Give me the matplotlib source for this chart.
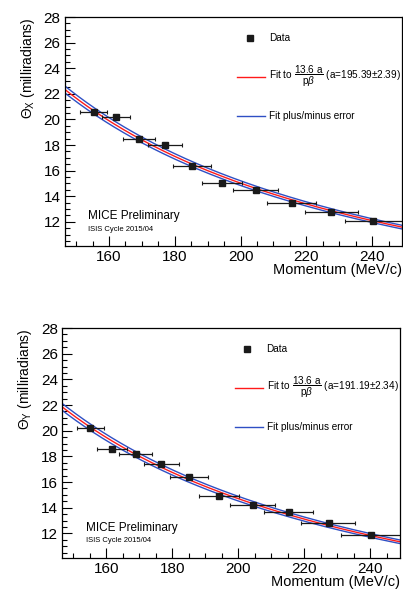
import numpy as np
import matplotlib
matplotlib.use("Agg")
import matplotlib.pyplot as plt
from matplotlib.ticker import MultipleLocator

plt.rcParams['font.family'] = ['Liberation Sans', 'DejaVu Sans']
plt.rcParams['mathtext.fontset'] = 'custom'
plt.rcParams['mathtext.rm'] = 'Liberation Sans'
plt.rcParams['mathtext.it'] = 'Liberation Sans:italic'
plt.rcParams['mathtext.bf'] = 'Liberation Sans:bold'

MUON_MASS = 105.66

# theta_x panel
px_x = [155.6, 162.1, 169.1, 177.0, 185.3, 194.5, 204.6, 215.5, 227.6, 240.4]
thx = [20.6, 20.2, 18.5, 18.0, 16.4, 15.0, 14.5, 13.5, 12.8, 12.1]
px_lo = [151.3, 157.8, 164.3, 171.9, 179.6, 188.4, 197.8, 208.1, 219.5, 231.8]
px_hi = [159.5, 166.5, 173.9, 182.2, 190.9, 200.4, 211.3, 222.9, 235.8, 249.5]
a_x, da_x = 195.39, 2.39

# theta_y panel
py_y = [155.2, 161.8, 168.9, 176.7, 185.0, 194.2, 204.3, 215.2, 227.3, 240.1]
thy = [20.2, 18.6, 18.2, 17.4, 16.4, 14.9, 14.2, 13.7, 12.8, 11.85]
py_lo = [151.0, 157.2, 163.9, 171.4, 179.3, 188.1, 197.5, 207.7, 219.1, 231.2]
py_hi = [159.3, 166.3, 173.7, 181.9, 190.7, 200.2, 211.1, 222.5, 235.3, 249.5]
a_y, da_y = 191.19, 2.34


def theta(p, a):
    e = np.sqrt(p ** 2 + MUON_MASS ** 2)
    return 13.6 * a / (p * p / e)


def panel(ax, p, th, lo, hi, a, da, sub):
    p = np.array(p)
    xerr = [p - np.array(lo), np.array(hi) - p]
    pp = np.linspace(146, 250, 300)
    ax.plot(pp, theta(pp, a + da), color='#2f4fc4', lw=1.0)
    ax.plot(pp, theta(pp, a - da), color='#2f4fc4', lw=1.0)
    ax.plot(pp, theta(pp, a), color='#ff1a1a', lw=1.0)
    ax.errorbar(p, th, xerr=xerr, fmt='s', color='#1a1a1a', ms=4,
                elinewidth=0.9, capsize=1.5, capthick=0.8)

    ax.set_xlim(146.6, 249)
    ax.set_ylim(10.1, 28)
    ax.xaxis.set_major_locator(MultipleLocator(20))
    ax.xaxis.set_minor_locator(MultipleLocator(5))
    ax.yaxis.set_major_locator(MultipleLocator(2))
    ax.yaxis.set_minor_locator(MultipleLocator(0.5))
    ax.tick_params(which='both', direction='in', labelsize=11, width=0.8)
    ax.tick_params(which='major', length=7)
    ax.tick_params(which='minor', length=3.5)
    ax.tick_params(axis='x', pad=3)
    ax.tick_params(axis='y', pad=3)
    for s in ax.spines.values():
        s.set_linewidth(0.9)

    ax.set_xlabel('Momentum (MeV/c)', fontsize=10.5, loc='right', labelpad=-1)
    ax.set_ylabel(r'$\Theta_{\mathrm{%s}}$ (milliradians)' % sub, fontsize=10, loc='top', labelpad=5)

    # legend drawn by hand in axes coordinates
    ax.plot([0.548], [0.91], 's', color='#1a1a1a', ms=4, transform=ax.transAxes)
    ax.text(0.605, 0.91, 'Data', transform=ax.transAxes, fontsize=7.2, va='center')
    ax.plot([0.51, 0.595], [0.74, 0.74], color='#ff1a1a', lw=1.0, transform=ax.transAxes)
    ax.text(0.605, 0.74,
            r'Fit to $\dfrac{\mathrm{13.6\ a}}{\mathrm{p}\beta}$ (a=%.2f$\pm$%.2f)' % (a, da),
            transform=ax.transAxes, fontsize=7.2, va='center')
    ax.plot([0.51, 0.595], [0.57, 0.57], color='#2f4fc4', lw=1.0, transform=ax.transAxes)
    ax.text(0.605, 0.57, 'Fit plus/minus error', transform=ax.transAxes, fontsize=7.2, va='center')

    ax.text(0.07, 0.13, 'MICE Preliminary', transform=ax.transAxes, fontsize=8.5, va='center')
    ax.text(0.07, 0.075, 'ISIS Cycle 2015/04', transform=ax.transAxes, fontsize=5.5, va='center')


fig = plt.figure(figsize=(4.03, 5.89), dpi=100)
ax1 = fig.add_axes([0.161, 0.582, 0.836, 0.389])
ax2 = fig.add_axes([0.154, 0.053, 0.839, 0.390])
panel(ax1, px_x, thx, px_lo, px_hi, a_x, da_x, 'X')
panel(ax2, py_y, thy, py_lo, py_hi, a_y, da_y, 'Y')

fig.savefig('out.png', dpi=100)
